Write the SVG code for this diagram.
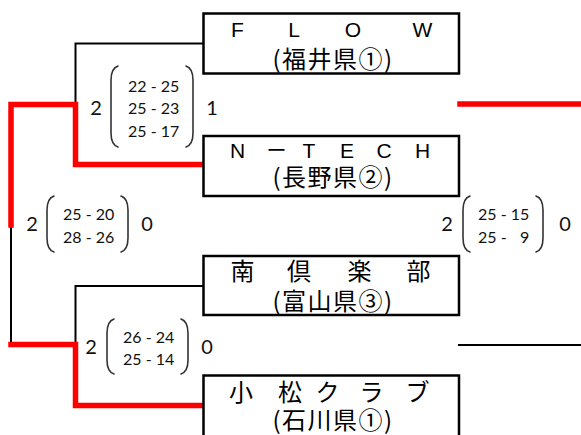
<svg xmlns="http://www.w3.org/2000/svg" width="581" height="435" viewBox="0 0 581 435">
<style>
.box{fill:#fff;stroke:#000;stroke-width:2.5}
.ln{fill:none;stroke:#000;stroke-width:2}
.win{fill:none;stroke:#f00;stroke-width:5.5;stroke-linejoin:miter;stroke-linecap:square}
.par{fill:none;stroke:#333;stroke-width:1.6;stroke-linecap:round}
.lat{font-family:"Liberation Sans",Arial,sans-serif;font-size:21px;fill:#000;text-anchor:middle}
.cjk{font-family:"Noto Sans CJK JP",sans-serif;font-size:24px;fill:#000;text-anchor:middle}
.cjk2{font-family:"Noto Sans CJK JP",sans-serif;font-size:24px;letter-spacing:1.5px;fill:#000;text-anchor:middle}
.big{font-family:Lato,"Open Sans",sans-serif;font-size:20px;fill:#111;text-anchor:middle}
.sc{font-family:Lato,"Open Sans",sans-serif;font-size:16px;fill:#111;text-anchor:start;white-space:pre}
</style>
<g id="connectors">
<polyline class="ln" points="203,43.5 75.5,43.5 75.5,104"/>
<polyline class="ln" points="203,286 75.5,286 75.5,345"/>
<polyline class="ln" points="11,225 11,345"/>
<line class="ln" x1="458" y1="345" x2="581" y2="345"/>
<polyline class="win" points="11,225 11,104.5 75.5,104.5 75.5,164.5 202,164.5"/>
<polyline class="win" points="11,344.5 75.5,344.5 75.5,405.5 202,405.5"/>
<line class="win" x1="460" y1="104" x2="585" y2="104"/>
</g>
<g id="node-flow">
<rect class="box" x="203.5" y="13.5" width="255.5" height="60"/>
<text class="lat" x="237.5" y="37">F</text>
<text class="lat" x="294" y="37">L</text>
<text class="lat" x="353" y="37">O</text>
<text class="lat" x="422.5" y="37">W</text>
<text class="cjk2" x="333" y="68">(福井県①)</text>
</g>
<g id="node-ntech">
<rect class="box" x="203.5" y="136" width="255.5" height="60"/>
<text class="lat" x="237.5" y="158">N</text>
<text class="lat" x="276.5" y="158" style="font-family:'Noto Sans CJK JP',sans-serif;font-size:20px">ー</text>
<text class="lat" x="309" y="158">T</text>
<text class="lat" x="347" y="158">E</text>
<text class="lat" x="384" y="158">C</text>
<text class="lat" x="422.5" y="158">H</text>
<text class="cjk2" x="333" y="186">(長野県②)</text>
</g>
<g id="node-minami">
<rect class="box" x="203.5" y="256" width="255.5" height="59"/>
<text class="cjk" x="242.5" y="280">南</text>
<text class="cjk" x="299" y="280">倶</text>
<text class="cjk" x="359.5" y="280">楽</text>
<text class="cjk" x="418.5" y="280">部</text>
<text class="cjk2" x="333" y="310">(富山県③)</text>
</g>
<g id="node-komatsu">
<rect class="box" x="203.5" y="375.5" width="255.5" height="80"/>
<text class="cjk" x="241" y="401">小</text>
<text class="cjk" x="290" y="401">松</text>
<text class="cjk" x="327.5" y="401">ク</text>
<text class="cjk" x="371.5" y="401">ラ</text>
<text class="cjk" x="417.5" y="401">ブ</text>
<text class="cjk2" x="333" y="429">(石川県①)</text>
</g>
<g id="score-sf1">
<text class="big" x="96" y="115">2</text>
<path class="par" d="M118,66 C112,68 111,74 111,80 L111,133 C111,139 112,145 118,147"/>
<path class="par" d="M186,66 C192,68 193,74 193,80 L193,133 C193,139 192,145 186,147"/>
<text class="sc" x="128" y="92">22 - 25</text>
<text class="sc" x="128" y="114">25 - 23</text>
<text class="sc" x="128" y="137">25 - 17</text>
<text class="big" x="212" y="115">1</text>
</g>
<g id="score-final">
<text class="big" x="32" y="231">2</text>
<path class="par" d="M54,196 C48,198 47,204 47,210 L47,238 C47,244 48,250 54,252"/>
<path class="par" d="M121,196 C127,198 128,204 128,210 L128,238 C128,244 127,250 121,252"/>
<text class="sc" x="63" y="220">25 - 20</text>
<text class="sc" x="63" y="243">28 - 26</text>
<text class="big" x="147" y="231">0</text>
</g>
<g id="score-sf2">
<text class="big" x="91" y="354">2</text>
<path class="par" d="M114,319 C108,321 107,327 107,333 L107,360 C107,366 108,372 114,374"/>
<path class="par" d="M181,319 C187,321 188,327 188,333 L188,360 C188,366 187,372 181,374"/>
<text class="sc" x="123" y="343">26 - 24</text>
<text class="sc" x="123" y="365">25 - 14</text>
<text class="big" x="207" y="354">0</text>
</g>
<g id="score-right">
<text class="big" x="447" y="231">2</text>
<path class="par" d="M470,196 C464,198 463,204 463,210 L463,238 C463,244 464,250 470,252"/>
<path class="par" d="M536,196 C542,198 543,204 543,210 L543,238 C543,244 542,250 536,252"/>
<text class="sc" x="478" y="220">25 - 15</text>
<text class="sc" x="478" y="243">25 - &#8199;9</text>
<text class="big" x="565" y="231">0</text>
</g>
</svg>
